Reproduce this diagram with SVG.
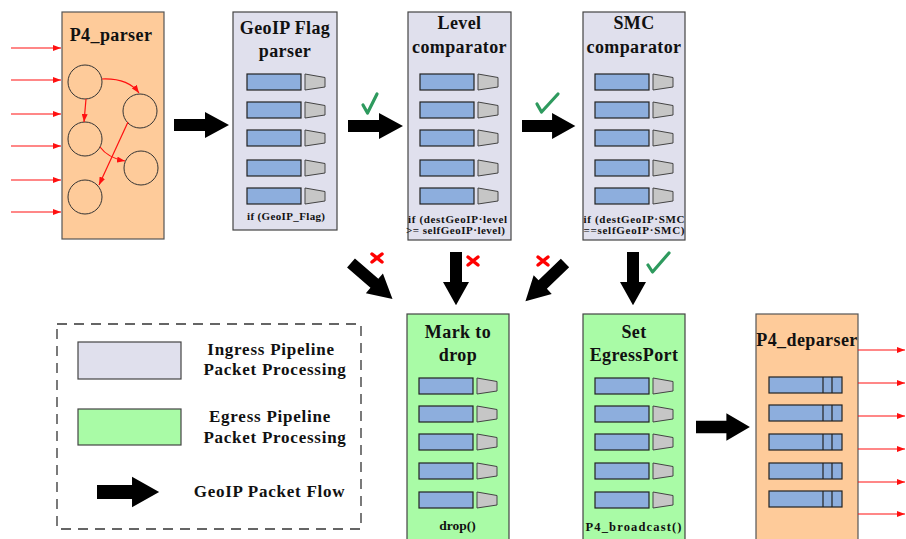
<svg xmlns="http://www.w3.org/2000/svg" xmlns:xlink="http://www.w3.org/1999/xlink" width="906" height="539" viewBox="0 0 906 539">
<style>
  .t{font-family:"Liberation Serif","Times New Roman",serif;font-weight:bold;fill:#111;text-anchor:middle}
  .title{font-size:18px;letter-spacing:0.4px}
  .leg{font-size:17px;letter-spacing:0.75px}
  .small{font-size:11px}
  .orange{fill:#FECB9A;stroke:#555;stroke-width:1.2}
  .ingress{fill:#E0E0ED;stroke:#444;stroke-width:1.2}
  .egress{fill:#A9FBA6;stroke:#444;stroke-width:1.2}
  .blue{fill:#8DAEDD;stroke:#222;stroke-width:1.2}
  .trap{fill:#C6C6C6;stroke:#444;stroke-width:1}
  .circ{fill:none;stroke:#333;stroke-width:1}
  .red{fill:none;stroke:#FF1010;stroke-width:1.2}
  .big{fill:#000}
  .x{stroke:#FF0000;stroke-width:3.5;stroke-linecap:round;fill:none}
  .ok{stroke:#2E9A5E;stroke-width:3.2;stroke-linecap:round;stroke-linejoin:round;fill:none}
</style>
<defs>
  <marker id="rh" viewBox="0 0 8 6" refX="8" refY="3" markerWidth="8" markerHeight="6" markerUnits="userSpaceOnUse" orient="auto">
    <path d="M0,0 L8,3 L0,6 Z" fill="#FF1010"/>
  </marker>
  <polygon id="bigArrow" points="0,-6 31,-6 31,-13 55,0 31,13 31,6 0,6"/>
  <g id="row">
    <rect class="blue" x="0" y="0" width="54" height="16"/>
    <polygon class="trap" points="58,0 78,3.5 78,13 58,16"/>
  </g>
  <g id="drow">
    <rect class="blue" x="0" y="0" width="73" height="16"/>
    <line x1="54" y1="0" x2="54" y2="16" stroke="#222" stroke-width="1.2"/>
    <line x1="63" y1="0" x2="63" y2="16" stroke="#222" stroke-width="1.2"/>
  </g>
</defs>

<g id="p4_parser">
  <rect class="orange" x="62" y="12" width="102" height="227"/>
  <text class="t title" x="111" y="41">P4_parser</text>
  <circle class="circ" cx="85" cy="82" r="17"/>
  <circle class="circ" cx="140" cy="111" r="17"/>
  <circle class="circ" cx="85" cy="139" r="17"/>
  <circle class="circ" cx="141" cy="168" r="17"/>
  <circle class="circ" cx="85" cy="197" r="17"/>
  <path class="red" d="M102,79 Q128,78 139,93" marker-end="url(#rh)"/>
  <path class="red" d="M86,99 L84,122" marker-end="url(#rh)"/>
  <path class="red" d="M100,147 Q108,158 125,161" marker-end="url(#rh)"/>
  <path class="red" d="M128,122 L99,185" marker-end="url(#rh)"/>
</g>

<g id="inputs">
  <line class="red" x1="11" y1="48" x2="61" y2="48" marker-end="url(#rh)"/>
  <line class="red" x1="11" y1="80" x2="61" y2="80" stroke-width="1.6" marker-end="url(#rh)"/>
  <line class="red" x1="11" y1="114" x2="61" y2="114" stroke-width="1.6" marker-end="url(#rh)"/>
  <line class="red" x1="11" y1="146" x2="61" y2="146" marker-end="url(#rh)"/>
  <line class="red" x1="11" y1="180" x2="61" y2="180" stroke-width="1.6" marker-end="url(#rh)"/>
  <line class="red" x1="11" y1="212" x2="61" y2="212" marker-end="url(#rh)"/>
</g>

<g id="geoip_flag_parser">
  <rect class="ingress" x="233" y="12" width="104" height="218"/>
  <text class="t title" x="285" y="34">GeoIP Flag</text>
  <text class="t title" x="285" y="57">parser</text>
  <use xlink:href="#row" transform="translate(247,74)"/>
  <use xlink:href="#row" transform="translate(247,102)"/>
  <use xlink:href="#row" transform="translate(247,130)"/>
  <use xlink:href="#row" transform="translate(247,160)"/>
  <use xlink:href="#row" transform="translate(247,188)"/>
  <text class="t small" x="286" y="220" textLength="78" lengthAdjust="spacing">if (GeoIP_Flag)</text>
</g>

<g id="level_comparator">
  <rect class="ingress" x="408" y="12" width="103" height="228"/>
  <text class="t title" x="459.5" y="29">Level</text>
  <text class="t title" x="459.5" y="53">comparator</text>
  <use xlink:href="#row" transform="translate(420,74)"/>
  <use xlink:href="#row" transform="translate(420,102)"/>
  <use xlink:href="#row" transform="translate(420,130)"/>
  <use xlink:href="#row" transform="translate(420,160)"/>
  <use xlink:href="#row" transform="translate(420,188)"/>
  <text class="t small" x="457.5" y="223" textLength="99" lengthAdjust="spacing">if (destGeoIP·level</text>
  <text class="t small" x="455.5" y="234" textLength="99" lengthAdjust="spacing">&gt;= selfGeoIP·level)</text>
</g>

<g id="smc_comparator">
  <rect class="ingress" x="583" y="12" width="102" height="228"/>
  <text class="t title" x="634" y="29">SMC</text>
  <text class="t title" x="634" y="53">comparator</text>
  <use xlink:href="#row" transform="translate(595,74)"/>
  <use xlink:href="#row" transform="translate(595,102)"/>
  <use xlink:href="#row" transform="translate(595,130)"/>
  <use xlink:href="#row" transform="translate(595,160)"/>
  <use xlink:href="#row" transform="translate(595,188)"/>
  <text class="t small" x="634" y="223" textLength="101" lengthAdjust="spacing">if (destGeoIP·SMC</text>
  <text class="t small" x="634" y="234" textLength="101" lengthAdjust="spacing">==selfGeoIP·SMC)</text>
</g>

<g id="mark_to_drop">
  <rect class="egress" x="407" y="314" width="102" height="240"/>
  <text class="t title" x="458" y="338">Mark to</text>
  <text class="t title" x="458" y="361">drop</text>
  <use xlink:href="#row" transform="translate(419,378)"/>
  <use xlink:href="#row" transform="translate(419,406)"/>
  <use xlink:href="#row" transform="translate(419,434)"/>
  <use xlink:href="#row" transform="translate(419,463)"/>
  <use xlink:href="#row" transform="translate(419,492)"/>
  <text class="t small" x="457.5" y="530" style="font-size:13.5px">drop()</text>
</g>

<g id="set_egressport">
  <rect class="egress" x="583" y="314" width="102" height="240"/>
  <text class="t title" x="634" y="338">Set</text>
  <text class="t title" x="634" y="361">EgressPort</text>
  <use xlink:href="#row" transform="translate(595,378)"/>
  <use xlink:href="#row" transform="translate(595,406)"/>
  <use xlink:href="#row" transform="translate(595,434)"/>
  <use xlink:href="#row" transform="translate(595,463)"/>
  <use xlink:href="#row" transform="translate(595,492)"/>
  <text class="t small" x="633.5" y="531" textLength="96" lengthAdjust="spacing" style="font-size:12.5px">P4_broadcast()</text>
</g>

<g id="p4_deparser">
  <rect class="orange" x="756" y="314" width="102" height="240"/>
  <text class="t title" x="807" y="346">P4_deparser</text>
  <use xlink:href="#drow" transform="translate(769,377)"/>
  <use xlink:href="#drow" transform="translate(769,405)"/>
  <use xlink:href="#drow" transform="translate(769,434)"/>
  <use xlink:href="#drow" transform="translate(769,463)"/>
  <use xlink:href="#drow" transform="translate(769,491)"/>
</g>

<g id="outputs">
  <line class="red" x1="858" y1="350" x2="905" y2="350" marker-end="url(#rh)"/>
  <line class="red" x1="858" y1="383" x2="905" y2="383" marker-end="url(#rh)"/>
  <line class="red" x1="858" y1="416" x2="905" y2="416" stroke-width="1.6" marker-end="url(#rh)"/>
  <line class="red" x1="858" y1="449" x2="905" y2="449" stroke-width="1.6" marker-end="url(#rh)"/>
  <line class="red" x1="858" y1="482" x2="905" y2="482" stroke-width="1.6" marker-end="url(#rh)"/>
  <line class="red" x1="858" y1="514" x2="905" y2="514" marker-end="url(#rh)"/>
</g>

<g id="connectors">
  <use xlink:href="#bigArrow" class="big" transform="translate(174,125)"/>
  <use xlink:href="#bigArrow" class="big" transform="translate(348,126)"/>
  <use xlink:href="#bigArrow" class="big" transform="translate(522,126) scale(0.97,1)"/>
  <use xlink:href="#bigArrow" class="big" transform="translate(351,263) rotate(41)"/>
  <use xlink:href="#bigArrow" class="big" transform="translate(456,252) rotate(90) scale(0.97,1)"/>
  <use xlink:href="#bigArrow" class="big" transform="translate(565,263) rotate(136)"/>
  <use xlink:href="#bigArrow" class="big" transform="translate(633,252) rotate(90) scale(0.97,1)"/>
  <use xlink:href="#bigArrow" class="big" transform="translate(696,427) scale(0.98,1.05)"/>
  <path class="ok" d="M363,105 L367.5,113 L377,94"/>
  <path class="ok" d="M537,104 L541.5,112 L558,94"/>
  <path class="ok" d="M648,265 L652.5,272 L669,253"/>
  <path class="x" d="M372,254 L382,262 M382,254 L372,262"/>
  <path class="x" d="M468,257 L478,265 M478,257 L468,265"/>
  <path class="x" d="M538,257 L548,265 M548,257 L538,265"/>
</g>

<g id="legend">
  <rect x="57" y="324" width="304" height="205" fill="none" stroke="#333" stroke-width="1.3" stroke-dasharray="10,7"/>
  <rect class="ingress" x="78" y="342" width="103" height="37"/>
  <text class="t leg" x="271" y="355">Ingress Pipeline</text>
  <text class="t leg" x="275" y="375">Packet Processing</text>
  <rect class="egress" x="78" y="409" width="103" height="36"/>
  <text class="t leg" x="270" y="422">Egress Pipeline</text>
  <text class="t leg" x="275" y="443">Packet Processing</text>
  <use xlink:href="#bigArrow" class="big" transform="translate(97,492) scale(1.13,1.18)"/>
  <text class="t leg" x="269.5" y="497">GeoIP Packet Flow</text>
</g>
</svg>
